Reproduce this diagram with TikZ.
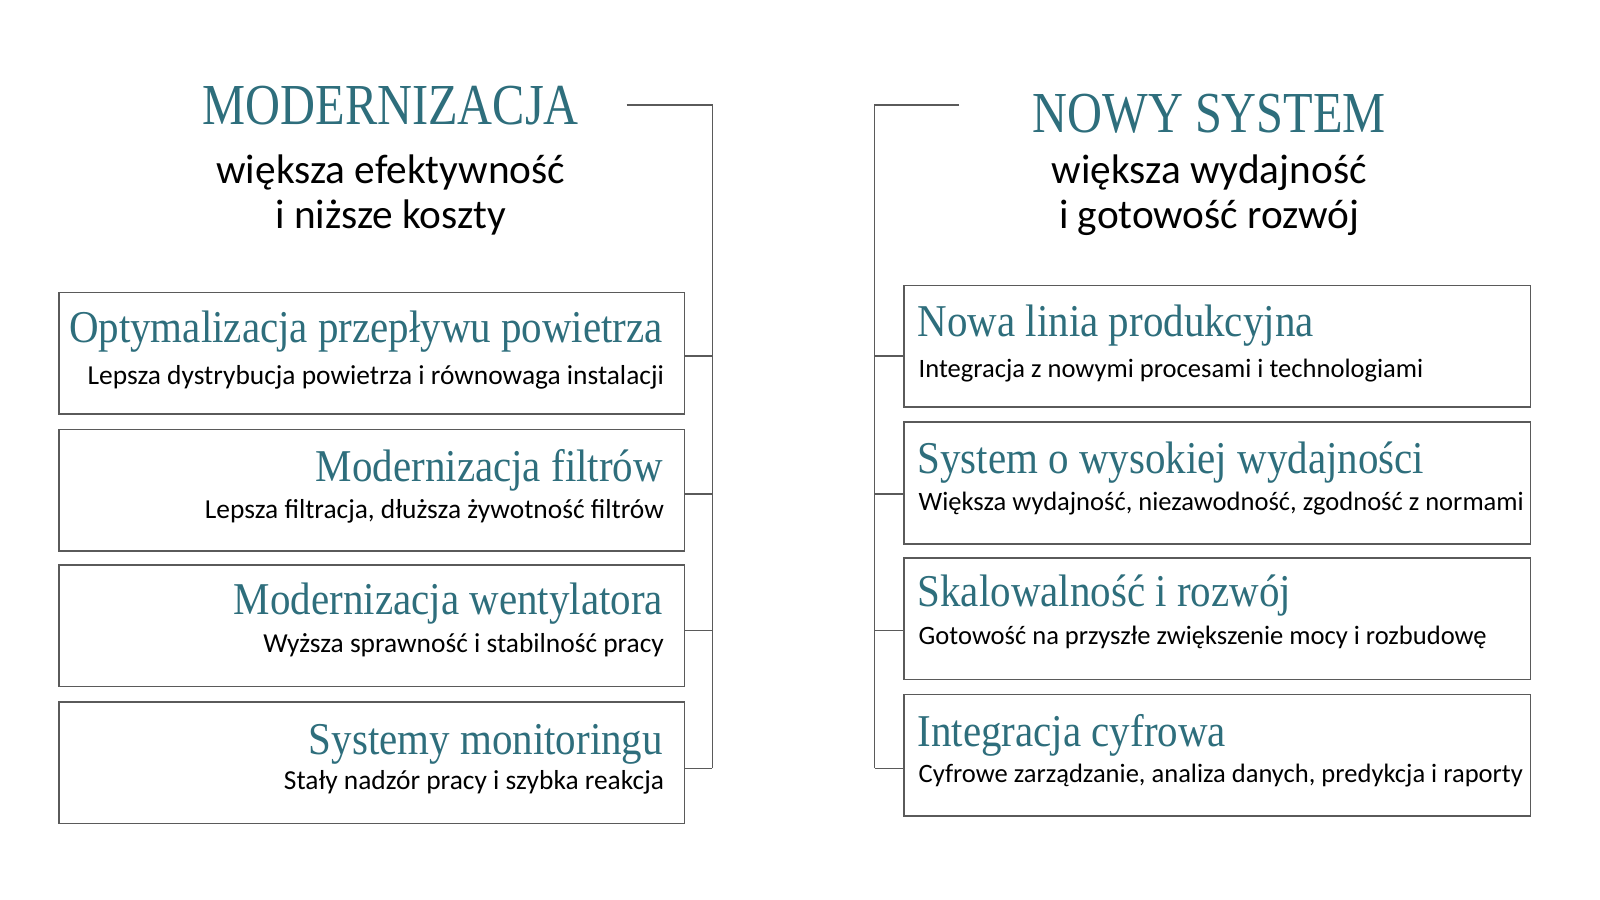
\documentclass[tikz,border=0pt]{standalone}
\usepackage{fontspec}
\setmainfont{Carlito}
\newfontfamily\slabfont[FakeStretch=0.9]{Liberation Serif}
\newfontfamily\slabhead[FakeStretch=0.834]{Liberation Serif}
\usetikzlibrary{positioning}
\definecolor{HTeal}{HTML}{2E6E7C}
\definecolor{LGrey}{HTML}{5A5A5A}
\tikzset{
    card/.style = {draw=LGrey, line width=0.9pt, rectangle, anchor=north west,
        minimum width=12.51cm,
        minimum height=2.43cm},
    headtitle/.style = {anchor=base, inner sep=0pt, text=HTeal, font=\slabhead\fontsize{33}{33}\selectfont},
    headtext/.style = {anchor=base, inner sep=0pt, font=\fontsize{23.5}{24}\selectfont},
    cardtitle/.style = {inner sep=0pt, text=HTeal, font=\slabfont\fontsize{25.9}{26}\selectfont},
    cardtext/.style = {inner sep=0pt, font=\fontsize{15.6}{16}\selectfont},
    cardtextR/.style = {cardtext, font=\fontsize{15.1}{16}\selectfont},
    bracket/.style = {draw=LGrey, line width=0.8pt}
}

\begin{document}
\begin{tikzpicture}[x=0.020408cm, y=-0.020408cm]
    \useasboundingbox (0,0) rectangle (1568,882);
    % lewa strona
    \node[headtitle] (modT) at (383,122) {MODERNIZACJA};
    \node[headtext] (modA) at (383,180) {większa efektywność};
    \node[headtext] (modB) at (383,224) {i niższe koszty};
    \node[card] (lb1) at (57,286) {};
    \node[card] (lb2) at (57,420) {};
    \node[card] (lb3) at (57,553) {};
    \node[card] (lb4) at (57,687) {};
    \node[cardtitle,anchor=base east] (lt1) at (650,336) {Optymalizacja przepływu powietrza};
    \node[cardtext,anchor=base east] (ls1) at (651,377) {Lepsza dystrybucja powietrza i równowaga instalacji};
    \node[cardtitle,anchor=base east] (lt2) at (650,472) {Modernizacja filtrów};
    \node[cardtext,anchor=base east] (ls2) at (651,508) {Lepsza filtracja, dłuższa żywotność filtrów};
    \node[cardtitle,anchor=base east] (lt3) at (650,602) {Modernizacja wentylatora};
    \node[cardtext,anchor=base east] (ls3) at (651,639) {Wyższa sprawność i stabilność pracy};
    \node[cardtitle,anchor=base east] (lt4) at (650,739) {Systemy monitoringu};
    \node[cardtext,anchor=base east] (ls4) at (651,774) {Stały nadzór pracy i szybka reakcja};
    \coordinate (lstart) at (614,103);
    \coordinate (ltop) at (698,103);
    \coordinate (lj1) at (698,349);
    \coordinate (lj2) at (698,484);
    \coordinate (lj3) at (698,618);
    \coordinate (lj4) at (698,753);
    \draw[bracket] (lstart) -- (ltop) -- (lj4);
    \draw[bracket] (lj1) -- (lj1 -| lb1.east);
    \draw[bracket] (lj2) -- (lj2 -| lb2.east);
    \draw[bracket] (lj3) -- (lj3 -| lb3.east);
    \draw[bracket] (lj4) -- (lj4 -| lb4.east);
    % prawa strona
    \node[headtitle] (nowT) at (1185,130) {NOWY SYSTEM};
    \node[headtext] (nowA) at (1185,180) {większa wydajność};
    \node[headtext] (nowB) at (1185,224) {i gotowość rozwój};
    \node[card,minimum width=12.53cm] (rb1) at (885,279) {};
    \node[card,minimum width=12.53cm] (rb2) at (885,413) {};
    \node[card,minimum width=12.53cm] (rb3) at (885,546) {};
    \node[card,minimum width=12.53cm] (rb4) at (885,680) {};
    \node[cardtitle,anchor=base west] (rt1) at (899,330) {Nowa linia produkcyjna};
    \node[cardtextR,anchor=base west] (rs1) at (900,370) {Integracja z nowymi procesami i technologiami};
    \node[cardtitle,anchor=base west] (rt2) at (899,464) {System o wysokiej wydajności};
    \node[cardtextR,anchor=base west] (rs2) at (900,500) {Większa wydajność, niezawodność, zgodność z normami};
    \node[cardtitle,anchor=base west] (rt3) at (899,594) {Skalowalność i rozwój};
    \node[cardtextR,anchor=base west] (rs3) at (900,632) {Gotowość na przyszłe zwiększenie mocy i rozbudowę};
    \node[cardtitle,anchor=base west] (rt4) at (899,732) {Integracja cyfrowa};
    \node[cardtextR,anchor=base west] (rs4) at (900,767) {Cyfrowe zarządzanie, analiza danych, predykcja i raporty};
    \coordinate (rstart) at (940,103);
    \coordinate (rtop) at (857,103);
    \coordinate (rj1) at (857,349);
    \coordinate (rj2) at (857,484);
    \coordinate (rj3) at (857,618);
    \coordinate (rj4) at (857,753);
    \draw[bracket] (rstart) -- (rtop) -- (rj4);
    \draw[bracket] (rj1) -- (rj1 -| rb1.west);
    \draw[bracket] (rj2) -- (rj2 -| rb2.west);
    \draw[bracket] (rj3) -- (rj3 -| rb3.west);
    \draw[bracket] (rj4) -- (rj4 -| rb4.west);
\end{tikzpicture}
\end{document}
